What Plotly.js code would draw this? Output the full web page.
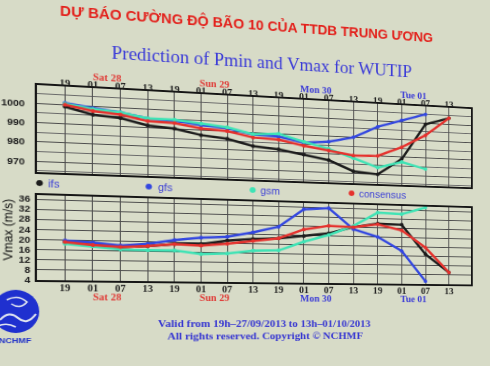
<!DOCTYPE html>
<html>
<head>
<meta charset="utf-8">
<script src="https://cdn.plot.ly/plotly-3.0.1.min.js"></script>
<style>
html,body{margin:0;padding:0;background:#d7dbc7;overflow:hidden;width:490px;height:366px}
#chart{width:490px;height:366px;transform-origin:0 0;
transform:matrix3d(1.120472,0.0832,0,0.000256, 0,1,0,0, 0,0,1,0, -4.45746,-3.0784,0,0.990528);}
</style>
</head>
<body>
<div id="chart"></div>
<script>
// ---- data ----
const hours = ['19','01','07','13','19','01','07','13','19','01','07','13','19','01','07','13'];
const dayLabels = ['Sat 28','Sun 29','Mon 30','Tue 01'];
const dayFirstIdx = [1,5,9,13];
const seriesNames = ['ifs','gfs','gsm','consensus'];

// Pmin (hPa)
const pIfs  = [999, 995.5, 994.5, 991.2, 990.2, 987.4, 986, 982.7, 981.5, 979.2, 976.7, 971, 969.8, 979, 999.4, 1003.5];
const pGfs  = [1001, 999, 997.5, 995, 994.5, 992.8, 991.7, 989, 988.5, 985.8, 987, 990, 996.6, 1001, 1005, null];
const pGsm  = [1000.5, 998.5, 997.5, 995, 995, 993.5, 992.3, 989.2, 990, 986.3, 983, 978.4, 973.6, 977.3, 973.8, null];
const pCons = [1000, 997.5, 996.3, 993.5, 993.2, 991, 990.2, 987.4, 986.8, 984.1, 982, 979.8, 980.2, 985.7, 993.1, 1003.5];

// Vmax (m/s)
const vIfs  = [19.1, 18.1, 17.5, 18.1, 19.1, 19.3, 21.0, 21.9, 22.4, 23.6, 25.0, 27.9, 29.6, 29.4, 16.8, 9.0];
const vGfs  = [19.7, 19.1, 18.1, 19.0, 20.8, 22.0, 22.6, 24.7, 27.3, 34.9, 35.7, 27.0, 23.9, 18.0, 5.0, null];
const vGsm  = [18.4, 17.6, 16.5, 16.4, 16.5, 15.2, 15.6, 17.0, 17.3, 21.2, 24.3, 28.4, 34.4, 34.0, 37.2, null];
const vCons = [19.1, 18.1, 17.5, 18.1, 19.1, 18.7, 19.7, 21.05, 22.4, 26.4, 28.2, 27.9, 29.3, 27.0, 19.7, 9.0];

const pTicks = [970,980,990,1000];
const vTicks = [4,8,12,16,20,24,28,32,36];

// ---- styles ----
const W = 490, H = 366;
const PX = x => x / W, PY = y => 1 - y / H;
const colors = {ifs:'#1c1c1c', gfs:'#3347e0', gsm:'#3fe3b5', consensus:'#e5322e'};
const idx = hours.map((_, i) => i);

function tr(name, ys, xa, ya) {
  return {type:'scatter', mode:'lines+markers', name, x: idx, y: ys, xaxis: xa, yaxis: ya,
    line:{color: colors[name], width: 2.5}, marker:{size:4, color: colors[name]},
    showlegend:false, hoverinfo:'skip', cliponaxis:false};
}

const data = [
  tr('ifs', pIfs, 'x2', 'y2'), tr('gfs', pGfs, 'x2', 'y2'), tr('gsm', pGsm, 'x2', 'y2'), tr('consensus', pCons, 'x2', 'y2'),
  tr('ifs', vIfs, 'x', 'y'), tr('gfs', vGfs, 'x', 'y'), tr('gsm', vGsm, 'x', 'y'), tr('consensus', vCons, 'x', 'y')
];

const serif = 'Liberation Serif, Times New Roman, serif';
const sans = 'Liberation Sans, Arial, sans-serif';
const xCommon = {
  range:[-0.99, 15.95], tickvals: idx, ticktext: hours, showgrid:true, gridcolor:'#4d4d4d', gridwidth:1,
  showline:true, linecolor:'#151515', linewidth:2, mirror:true, ticks:'', zeroline:false, fixedrange:true,
  tickfont:{family: serif, size:10, color:'#1e1e1e', weight:'bold'}, domain:[PX(37), PX(471)]
};
const yCommon = {
  showgrid:true, gridcolor:'#4d4d4d', gridwidth:1, showline:true, linecolor:'#151515', linewidth:2, mirror:true,
  ticks:'', zeroline:false, fixedrange:true, tickfont:{family: sans, size:9.5, color:'#1e1e1e', weight:'bold'}
};

const annotations = [];
// subtitle
annotations.push({text:'Prediction of Pmin and Vmax for WUTIP', xref:'paper', yref:'paper', x:PX(255), y:PY(48),
  xanchor:'center', yanchor:'middle', showarrow:false, font:{family: serif, size:18, color:'#3838d8'}});
// day labels
dayLabels.forEach((d, i) => {
  const c = i < 2 ? '#e03a36' : '#3a3ad6';
  annotations.push({text:d, xref:'x2', yref:'paper', x: dayFirstIdx[i] + 0.5, y: PY(73), xanchor:'center', yanchor:'middle',
    showarrow:false, font:{family: serif, size:10, color:c, weight:'bold'}});
  annotations.push({text:d, xref:'x', yref:'paper', x: dayFirstIdx[i] + 0.5, y: PY(296.5), xanchor:'center', yanchor:'middle',
    showarrow:false, font:{family: serif, size:10, color:c, weight:'bold'}});
});
// legend
const legX = [39, 140.5, 241.3, 342.4];
seriesNames.forEach((n, i) => {
  annotations.push({text:'●', xref:'paper', yref:'paper', x:PX(legX[i]), y:PY(182), xanchor:'center', yanchor:'middle',
    showarrow:false, font:{family:'DejaVu Sans', size:8, color: colors[n]}});
  annotations.push({text:n, xref:'paper', yref:'paper', x:PX(legX[i] + 6), y:PY(183), xanchor:'left', yanchor:'middle',
    showarrow:false, font:{family: sans, size:10.5, color:'#3b3fd6'}});
});
// y title lower
annotations.push({text:'Vmax (m/s)', xref:'paper', yref:'paper', x:PX(11), y:PY(231), xanchor:'center', yanchor:'middle',
  textangle:-90, showarrow:false, font:{family: sans, size:12, color:'#111'}});
// footer
annotations.push({text:'Valid from 19h–27/09/2013 to 13h–01/10/2013', xref:'paper', yref:'paper', x:PX(255.5), y:PY(323),
  xanchor:'center', yanchor:'middle', showarrow:false, font:{family: serif, size:11, color:'#3434d2', weight:'bold'}});
annotations.push({text:'All rights reserved. Copyright © NCHMF', xref:'paper', yref:'paper', x:PX(255.5), y:PY(335.5),
  xanchor:'center', yanchor:'middle', showarrow:false, font:{family: serif, size:11, color:'#3434d2', weight:'bold'}});
annotations.push({text:'NCHMF', xref:'paper', yref:'paper', x:PX(17), y:PY(340), xanchor:'center', yanchor:'middle',
  showarrow:false, font:{family: sans, size:8, color:'#2233c8', weight:'bold'}});

function pathPx(cmds) {
  return cmds.map(c => typeof c === 'string' ? c : (PX(c[0]) + ' ' + PY(c[1]))).join(' ');
}
const shapes = [
  {type:'circle', xref:'paper', yref:'paper', x0:PX(-3), x1:PX(39), y0:PY(333), y1:PY(290), fillcolor:'#1f30cf', line:{width:0}},
  {type:'path', xref:'paper', yref:'paper', path: pathPx(['M',[4,320],'Q',[12,310],[20,318],'T',[36,314]]), line:{color:'#dfe3f0', width:2}},
  {type:'path', xref:'paper', yref:'paper', path: pathPx(['M',[10,300],'Q',[20,294],[28,302],'Q',[22,310],[14,304]]), line:{color:'#dfe3f0', width:1.5}},
  {type:'path', xref:'paper', yref:'paper', path: pathPx(['M',[2,326],'Q',[10,322],[18,327]]), line:{color:'#dfe3f0', width:1.5}}
];

const layout = {
  width: W, height: H, margin:{l:0, r:0, t:0, b:0}, autosize:false,
  paper_bgcolor:'#d7dbc7', plot_bgcolor:'#d9ddc9',
  title:{text:'DỰ BÁO CƯỜNG ĐỘ BÃO 10 CỦA TTDB TRUNG ƯƠNG', x:PX(243.5), xanchor:'center', xref:'container',
    y:PY(9), yref:'container', yanchor:'middle', font:{family: sans, size:14, color:'#e3201b', weight:'bold'}},
  xaxis: Object.assign({}, xCommon, {anchor:'y', side:'bottom', ticklabelstandoff:-2}),
  xaxis2: Object.assign({}, xCommon, {anchor:'y2', side:'top', ticklabelstandoff:-6}),
  yaxis: Object.assign({}, yCommon, {anchor:'x', domain:[PY(279.5), PY(195)], range:[4, 37.6], tickvals: vTicks,
    ticktext: vTicks.map(String), ticklabelstandoff:2}),
  yaxis2: Object.assign({}, yCommon, {anchor:'x2', domain:[PY(172), PY(85)], range:[964.4, 1009.5], tickvals: pTicks,
    ticktext: pTicks.map(String), ticklabelstandoff:7,
    minor:{tickvals:[965,975,985,995,1005], showgrid:true, gridcolor:'#6a6a6a', gridwidth:1, ticks:''}}),
  annotations, shapes, showlegend:false
};

Plotly.newPlot('chart', data, layout, {staticPlot:true, displayModeBar:false});
</script>
</body>
</html>
